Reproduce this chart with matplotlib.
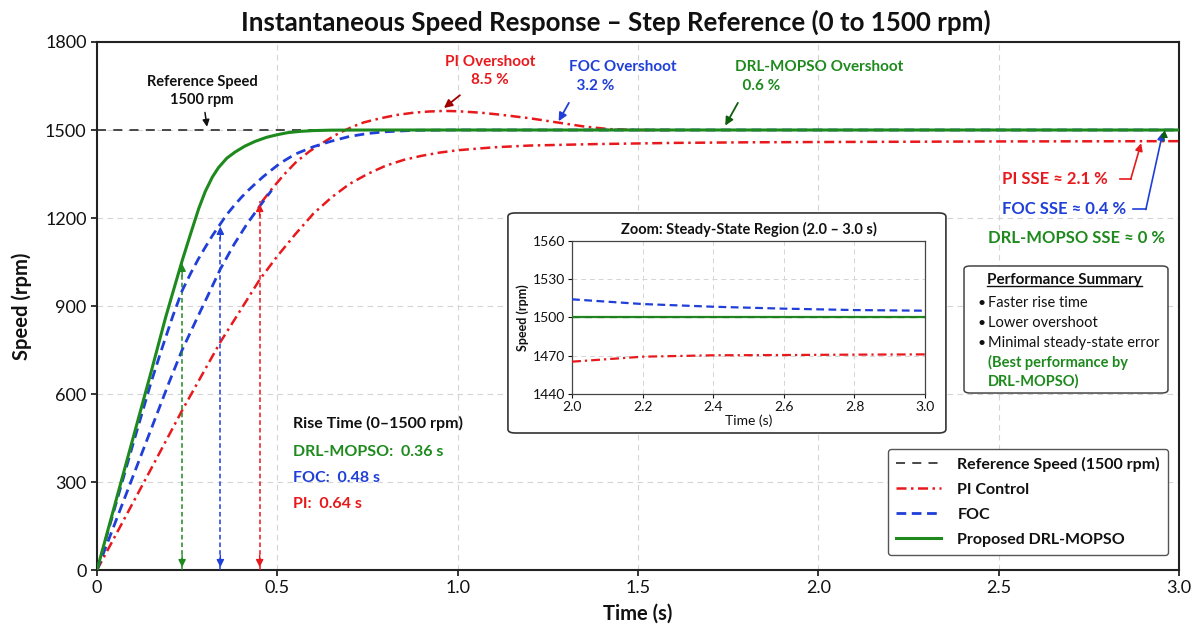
import matplotlib
matplotlib.use('Agg')
import matplotlib.pyplot as plt
from matplotlib.patches import FancyBboxPatch
from matplotlib.lines import Line2D

plt.rcParams['font.family'] = ['Lato', 'DejaVu Sans']

# ---------------- data ----------------
ref_speed = 1500
t_ref = [0.0, 3.0]

# PI control: main response (settles below reference)
t_pi = [0, 0.05, 0.10, 0.15, 0.236, 0.342, 0.40, 0.451, 0.50, 0.55, 0.60, 0.65, 0.70,
        0.75, 0.80, 0.85, 0.90, 0.95, 1.0, 1.1, 1.2, 1.383, 1.6, 1.8, 2.0, 2.5, 3.0]
spd_pi = [0, 115, 230, 345, 544, 777, 890, 990, 1070, 1145, 1215, 1270, 1316,
          1350, 1378, 1398, 1412, 1423, 1431, 1441, 1447, 1452, 1456, 1458, 1459, 1461, 1462]

# PI control: overshoot trace
t_pi_os = [0.457, 0.484, 0.52, 0.553, 0.59, 0.628, 0.66, 0.684, 0.71, 0.74, 0.786, 0.83,
           0.878, 0.92, 0.961, 1.0, 1.064, 1.12, 1.2, 1.28, 1.35, 1.42, 1.5, 1.6]
spd_pi_os = [1255, 1298, 1350, 1392, 1428, 1458, 1482, 1497, 1512, 1526, 1540, 1551,
             1559, 1563, 1565, 1564, 1559, 1552, 1540, 1525, 1512, 1503, 1500, 1500]

# FOC: main response
t_foc = [0, 0.05, 0.10, 0.15, 0.18, 0.21, 0.236, 0.26, 0.28, 0.30, 0.32, 0.342, 0.36,
         0.38, 0.40, 0.42, 0.44, 0.46, 0.48, 0.508, 0.55, 0.60, 0.65, 0.70, 0.75, 0.80,
         0.88, 1.0, 1.5, 2.0, 2.5, 3.0]
spd_foc = [0, 215, 430, 640, 755, 865, 952, 1012, 1058, 1100, 1140, 1180, 1212,
           1242, 1270, 1295, 1318, 1340, 1360, 1387, 1418, 1443, 1462, 1478, 1488, 1494,
           1499, 1500, 1500, 1500, 1500, 1500]

# FOC: second (slower) trace
t_foc_b = [0, 0.05, 0.10, 0.15, 0.20, 0.236, 0.28, 0.313, 0.342, 0.38, 0.416, 0.457, 0.484]
spd_foc_b = [0, 160, 320, 480, 640, 750, 865, 950, 1026, 1110, 1180, 1250, 1294]

# Proposed DRL-MOPSO
t_drl = [0, 0.05, 0.10, 0.15, 0.19, 0.21, 0.236, 0.26, 0.282, 0.30, 0.32, 0.337, 0.36,
         0.383, 0.41, 0.438, 0.47, 0.50, 0.529, 0.56, 0.60, 0.65, 0.75, 1.0, 1.5, 2.0,
         2.5, 3.0]
spd_drl = [0, 225, 450, 675, 860, 945, 1054, 1148, 1232, 1290, 1340, 1372, 1404,
           1425, 1445, 1461, 1475, 1484, 1491, 1495, 1498, 1499.5, 1500, 1500, 1500,
           1500, 1500, 1500]

# rise-time markers (time, speed at arrow tip)
rise_t = [0.236, 0.342, 0.451]
rise_top = [1054, 1180, 1258]

# inset (steady-state zoom)
inset_t = [2.0, 2.2, 2.4, 2.6, 2.8, 3.0]
inset_pi = [1465.3, 1469.2, 1470.3, 1470.5, 1470.8, 1471.0]
inset_foc = [1514.1, 1510.4, 1508.3, 1506.8, 1505.7, 1505.2]
inset_drl = [1500, 1500, 1500, 1500, 1500, 1500]

x_ticks = [0, 0.5, 1.0, 1.5, 2.0, 2.5, 3.0]
x_tick_labels = ['0', '0.5', '1.0', '1.5', '2.0', '2.5', '3.0']
y_ticks = [0, 300, 600, 900, 1200, 1500, 1800]
inset_xticks = [2.0, 2.2, 2.4, 2.6, 2.8, 3.0]
inset_yticks = [1440, 1470, 1500, 1530, 1560]

# ---------------- styling ----------------
C_RED = '#e8191c'
C_BLUE = '#1f3fd8'
C_GREEN = '#1e8a1e'
C_DRED = '#a00000'
C_DGREEN = '#0d5e0d'
C_TXT = '#111111'
PI_LS = (0, (4, 1.8, 1, 1.8))
FOC_LS = (0, (3.5, 2))

fig = plt.figure(figsize=(11.96, 6.24), dpi=100)
ax = fig.add_axes([0.0811, 0.0865, 0.9047, 0.8462])

ax.set_xlim(0, 3.0)
ax.set_ylim(0, 1800)
ax.set_xticks(x_ticks)
ax.set_xticklabels(x_tick_labels)
ax.set_yticks(y_ticks)
ax.tick_params(labelsize=13, colors=C_TXT, width=1.2, length=4)
ax.grid(True, ls=(0, (5, 4)), color='#d4d4d4', lw=0.8)
for s in ax.spines.values():
    s.set_linewidth(1.5)
    s.set_color('#222222')

ax.plot(t_ref, [ref_speed, ref_speed], color='#3a3a3a', lw=1.3, ls=(0, (5, 4)),
        zorder=2, label='Reference Speed (1500 rpm)')
ax.plot(t_pi, spd_pi, color=C_RED, lw=1.8, ls=PI_LS, zorder=3, label='PI Control')
ax.plot(t_pi_os, spd_pi_os, color=C_RED, lw=1.8, ls=PI_LS, zorder=3)
ax.plot(t_foc_b, spd_foc_b, color=C_BLUE, lw=2.0, ls=FOC_LS, zorder=3)
ax.plot(t_foc, spd_foc, color=C_BLUE, lw=2.0, ls=FOC_LS, zorder=4, label='FOC')
ax.plot(t_drl, spd_drl, color=C_GREEN, lw=2.2, zorder=5, label='Proposed DRL-MOPSO')

# rise-time markers
for t, top, c in zip(rise_t, rise_top, [C_GREEN, C_BLUE, C_RED]):
    ax.plot([t, t], [0, top], color=c, lw=1.1, ls=(0, (3, 2)), zorder=3)
    ax.annotate('', xy=(t, top), xytext=(t, top - 60),
                arrowprops=dict(arrowstyle='-|>', color=c, lw=1.0, mutation_scale=11), zorder=4)
    ax.annotate('', xy=(t, 0), xytext=(t, 60),
                arrowprops=dict(arrowstyle='-|>', color=c, lw=1.0, mutation_scale=11), zorder=4)

ax.set_title('Instantaneous Speed Response – Step Reference (0 to 1500 rpm)',
             fontsize=18.6, fontweight='bold', color=C_TXT, pad=8, x=0.4797)
ax.set_xlabel('Time (s)', fontsize=14.5, fontweight='bold', color=C_TXT, labelpad=5)
ax.set_ylabel('Speed (rpm)', fontsize=14.5, fontweight='bold', color=C_TXT, labelpad=9)

# annotations
ax.annotate('Reference Speed\n1500 rpm', xy=(0.305, 1511), xytext=(0.291, 1633),
            ha='center', va='center', fontsize=10.5, fontweight='bold', color=C_TXT,
            linespacing=1.35,
            arrowprops=dict(arrowstyle='-|>', color='#111111', lw=1.1, mutation_scale=10,
                            shrinkA=2, shrinkB=0))
ax.annotate('PI Overshoot\n8.5 %', xy=(0.962, 1575), xytext=(1.09, 1701),
            ha='center', va='center', fontsize=11, fontweight='bold', color=C_RED,
            linespacing=1.4,
            arrowprops=dict(arrowstyle='-|>', color=C_DRED, lw=1.3, mutation_scale=12,
                            shrinkA=6, shrinkB=0))
ax.annotate('FOC Overshoot\n  3.2 %', xy=(1.28, 1530), xytext=(1.309, 1682),
            ha='left', va='center', fontsize=11, fontweight='bold', color=C_BLUE,
            linespacing=1.4, multialignment='left',
            arrowprops=dict(arrowstyle='-|>', color=C_BLUE, lw=1.3, mutation_scale=12,
                            shrinkA=6, shrinkB=0, relpos=(0.05, 0.0)))
ax.annotate('DRL-MOPSO Overshoot\n  0.6 %', xy=(1.742, 1515), xytext=(1.769, 1682),
            ha='left', va='center', fontsize=11, fontweight='bold', color=C_GREEN,
            linespacing=1.4, multialignment='left',
            arrowprops=dict(arrowstyle='-|>', color=C_DGREEN, lw=1.3, mutation_scale=12,
                            shrinkA=6, shrinkB=0, relpos=(0.05, 0.0)))

# steady-state error annotations
ax.text(2.508, 1332, 'PI SSE ≈ 2.1 %', ha='left', va='center', fontsize=12,
        fontweight='bold', color=C_RED)
ax.plot([2.835, 2.866], [1332, 1332], color=C_RED, lw=1.2, zorder=6)
ax.annotate('', xy=(2.895, 1455), xytext=(2.866, 1332),
            arrowprops=dict(arrowstyle='-|>', color=C_RED, lw=1.2, mutation_scale=11,
                            shrinkA=0, shrinkB=0), zorder=6)
ax.text(2.508, 1229, 'FOC SSE ≈ 0.4 %', ha='left', va='center', fontsize=12,
        fontweight='bold', color=C_BLUE)
ax.plot([2.872, 2.908], [1229, 1229], color=C_BLUE, lw=1.2, zorder=6)
ax.annotate('', xy=(2.955, 1492), xytext=(2.908, 1229),
            arrowprops=dict(arrowstyle='-|>', color=C_BLUE, lw=1.2, mutation_scale=11,
                            shrinkA=0, shrinkB=0), zorder=6)
ax.annotate('', xy=(2.96, 1500), xytext=(2.958, 1460),
            arrowprops=dict(arrowstyle='-|>', color=C_DGREEN, lw=0.8, mutation_scale=11,
                            shrinkA=0, shrinkB=0), zorder=7)
ax.text(2.470, 1131, 'DRL-MOPSO SSE ≈ 0 %', ha='left', va='center', fontsize=12,
        fontweight='bold', color=C_GREEN)

# rise time block
ax.text(0.543, 500, 'Rise Time (0–1500 rpm)', ha='left', va='center', fontsize=11.5,
        fontweight='bold', color=C_TXT)
ax.text(0.543, 403, 'DRL-MOPSO:  0.36 s', ha='left', va='center', fontsize=11.5,
        fontweight='bold', color=C_GREEN)
ax.text(0.543, 313, 'FOC:  0.48 s', ha='left', va='center', fontsize=11.5,
        fontweight='bold', color=C_BLUE)
ax.text(0.543, 225, 'PI:  0.64 s', ha='left', va='center', fontsize=11.5,
        fontweight='bold', color=C_RED)

# performance summary box
pbox = FancyBboxPatch((0.8013, 0.3352), 0.1885, 0.2406, transform=ax.transAxes,
                      boxstyle='round,pad=0,rounding_size=0.006', fc='white',
                      ec='#444444', lw=1.1, zorder=6)
ax.add_patch(pbox)
ptitle = ax.text(0.8943, 0.5492, 'Performance Summary', transform=ax.transAxes,
                 ha='center', va='center', fontsize=11, fontweight='bold',
                 color=C_TXT, zorder=7)
for yy, s in zip([0.5057, 0.4678, 0.4299],
                 ['Faster rise time', 'Lower overshoot', 'Minimal steady-state error']):
    ax.text(0.8133, yy, '•', transform=ax.transAxes, ha='left', va='center',
            fontsize=10, color=C_TXT, zorder=7)
    ax.text(0.8235, yy, s, transform=ax.transAxes, ha='left', va='center',
            fontsize=10.5, color=C_TXT, zorder=7)
ax.text(0.8235, 0.3926, '(Best performance by', transform=ax.transAxes, ha='left',
        va='center', fontsize=10.5, fontweight='bold', color=C_GREEN, zorder=7)
ax.text(0.8235, 0.3566, 'DRL-MOPSO)', transform=ax.transAxes, ha='left',
        va='center', fontsize=10.5, fontweight='bold', color=C_GREEN, zorder=7)

# legend
leg = ax.legend(loc='lower right', bbox_to_anchor=(0.9898, 0.0284), borderaxespad=0,
                prop={'weight': 'bold', 'size': 11.5}, handlelength=2.85,
                handletextpad=1.0, labelspacing=0.68, borderpad=0.5,
                frameon=True, fancybox=True, framealpha=1, edgecolor='#555555')
leg.get_frame().set_linewidth(1.0)
for txt in leg.get_texts():
    txt.set_color(C_TXT)

# inset background box
ibox = FancyBboxPatch((0.4247, 0.3061), 0.3662, 0.3526, transform=fig.transFigure,
                      boxstyle='round,pad=0,rounding_size=0.006', fc='white',
                      ec='#333333', lw=1.2, zorder=1)
fig.patches.append(ibox)

ax_in = fig.add_axes([0.4783, 0.3686, 0.2952, 0.2457])
ax_in.set_zorder(2)
ax_in.set_xlim(2.0, 3.0)
ax_in.set_ylim(1440, 1560)
ax_in.set_xticks(inset_xticks)
ax_in.set_xticklabels([f'{v:.1f}' for v in inset_xticks])
ax_in.set_yticks(inset_yticks)
ax_in.tick_params(labelsize=10, colors=C_TXT, length=3, pad=2)
ax_in.grid(True, ls=(0, (5, 4)), color='#d4d4d4', lw=0.7)
for s in ax_in.spines.values():
    s.set_linewidth(0.9)
    s.set_color('#444444')
ax_in.plot(inset_t, inset_drl, color=C_GREEN, lw=1.6, zorder=3)
ax_in.plot([2.0, 3.0], [ref_speed, ref_speed], color='#2a6a2a', lw=1.0,
           ls=(0, (5, 4)), alpha=0.6, zorder=4)
ax_in.plot(inset_t, inset_foc, color=C_BLUE, lw=1.6, ls=FOC_LS, zorder=3)
ax_in.plot(inset_t, inset_pi, color=C_RED, lw=1.6, ls=PI_LS, zorder=3)
ax_in.set_title('Zoom: Steady-State Region (2.0 – 3.0 s)', fontsize=10.5,
                fontweight='bold', color=C_TXT, pad=5)
ax_in.set_xlabel('Time (s)', fontsize=10, color=C_TXT, labelpad=1)
ax_in.set_ylabel('Speed (rpm)', fontsize=9, fontweight='bold', color=C_TXT, labelpad=3)

# underline for summary title
fig.canvas.draw()
r = fig.canvas.get_renderer()
bb = ptitle.get_window_extent(renderer=r)
inv = fig.transFigure.inverted()
(x0, y0), (x1, y1) = inv.transform([(bb.x0, bb.y0), (bb.x1, bb.y0)])
fig.add_artist(Line2D([x0, x1], [y0 + 0.002, y0 + 0.002], transform=fig.transFigure,
                      color=C_TXT, lw=1.0, zorder=10))

fig.savefig('out.png', dpi=100, facecolor='white')
